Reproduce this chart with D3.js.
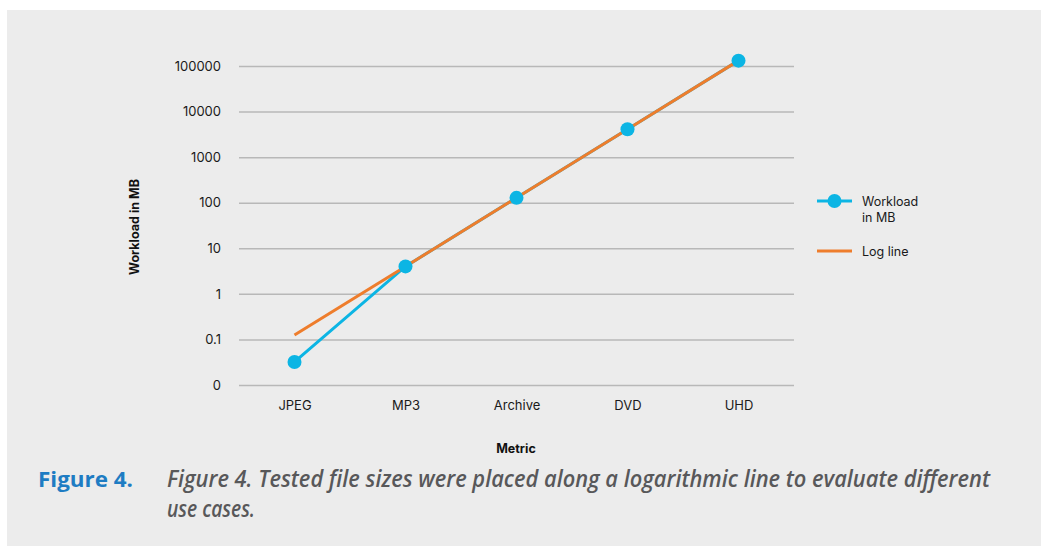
<!DOCTYPE html>
<html>
<head>
<meta charset="utf-8">
<script src="https://cdn.jsdelivr.net/npm/d3@7"></script>
<style>
  body { margin: 0; background: #fff; }
  svg text { font-family: Inter, Lato, sans-serif; }
</style>
</head>
<body>
<script>
// data
var categories = ["JPEG", "MP3", "Archive", "DVD", "UHD"];
var workload = [0.032, 4, 128, 4096, 131072];   // Workload in MB
var logLine = [0.125, 4, 128, 4096, 131072];    // fitted log line
var yTicks = [0.01, 0.1, 1, 10, 100, 1000, 10000, 100000];
var yTickLabels = ["0", "0.1", "1", "10", "100", "1000", "10000", "100000"];

var width = 1042, height = 546;

var svg = d3.select("body").append("svg")
    .attr("width", width)
    .attr("height", height);

// grey panel
svg.append("rect")
    .attr("x", 7).attr("y", 10)
    .attr("width", 1034).attr("height", 536)
    .attr("fill", "#ececec");

var x = d3.scalePoint()
    .domain(categories)
    .range([239, 794])
    .padding(0.5);

var y = d3.scaleLog()
    .domain([0.01, 100000])
    .range([385, 66]);

// gridlines + y labels
var yAxis = d3.axisLeft(y)
    .tickValues(yTicks)
    .tickSize(-(794 - 239))
    .tickPadding(18)
    .tickFormat(function(d, i) { return yTickLabels[i]; });

var gy = svg.append("g")
    .attr("transform", "translate(239,0)")
    .call(yAxis);
gy.select(".domain").remove();
gy.selectAll(".tick line").attr("stroke", "#b8b8b8").attr("stroke-width", 1.5);
gy.selectAll(".tick text")
    .attr("font-size", 13).attr("fill", "#1a1a1a")
    .style("font-family", "Inter, Lato, sans-serif");

// x labels
var xAxis = d3.axisBottom(x).tickSize(0).tickPadding(16);
var gx = svg.append("g")
    .attr("transform", "translate(0,385)")
    .call(xAxis);
gx.select(".domain").remove();
gx.selectAll(".tick text")
    .attr("font-size", 13).attr("fill", "#1a1a1a")
    .style("font-family", "Inter, Lato, sans-serif");

// axis titles
svg.append("text")
    .attr("transform", "translate(139,227) rotate(-90)")
    .attr("text-anchor", "middle")
    .attr("font-size", 12.5).attr("font-weight", "bold")
    .attr("fill", "#111")
    .text("Workload in MB");

svg.append("text")
    .attr("x", 516).attr("y", 453)
    .attr("text-anchor", "middle")
    .attr("font-size", 12.5).attr("font-weight", "bold")
    .attr("fill", "#111")
    .text("Metric");

var blue = "#0cb5e4", orange = "#ee7d2c";

var line = d3.line()
    .x(function(d, i) { return x(categories[i]); })
    .y(function(d) { return y(d); });

svg.append("path")
    .datum(workload)
    .attr("fill", "none")
    .attr("stroke", blue)
    .attr("stroke-width", 3)
    .attr("d", line);

svg.append("path")
    .datum(logLine)
    .attr("fill", "none")
    .attr("stroke", orange)
    .attr("stroke-width", 3)
    .attr("d", line);

svg.selectAll(".dot")
    .data(workload)
    .enter().append("circle")
    .attr("class", "dot")
    .attr("cx", function(d, i) { return x(categories[i]); })
    .attr("cy", function(d) { return y(d); })
    .attr("r", 7)
    .attr("fill", blue);

// legend
var leg = svg.append("g").attr("transform", "translate(817,0)");
leg.append("line")
    .attr("x1", 0).attr("x2", 35).attr("y1", 201).attr("y2", 201)
    .attr("stroke", blue).attr("stroke-width", 3);
leg.append("circle").attr("cx", 17.5).attr("cy", 201).attr("r", 7).attr("fill", blue);
leg.append("text").attr("x", 45).attr("y", 206)
    .attr("font-size", 12.5).attr("fill", "#1a1a1a").text("Workload");
leg.append("text").attr("x", 45).attr("y", 222)
    .attr("font-size", 12.5).attr("fill", "#1a1a1a").text("in MB");
leg.append("line")
    .attr("x1", 0).attr("x2", 35).attr("y1", 251).attr("y2", 251)
    .attr("stroke", orange).attr("stroke-width", 3);
leg.append("text").attr("x", 45).attr("y", 256)
    .attr("font-size", 12.5).attr("fill", "#1a1a1a").text("Log line");

// caption
svg.append("text")
    .attr("x", 38).attr("y", 487)
    .attr("font-size", 22).attr("font-weight", 700)
    .attr("fill", "#1e7cc3")
    .attr("textLength", 95).attr("lengthAdjust", "spacingAndGlyphs")
    .style("font-family", "'Open Sans', sans-serif")
    .text("Figure 4.");

var cap = svg.append("text")
    .attr("font-size", 23).attr("font-weight", 600)
    .attr("font-style", "italic")
    .attr("fill", "#58585a")
    .style("font-family", "'Open Sans', sans-serif");
cap.append("tspan").attr("x", 167).attr("y", 487)
    .attr("textLength", 823).attr("lengthAdjust", "spacingAndGlyphs")
    .text("Figure 4. Tested file sizes were placed along a logarithmic line to evaluate different");
cap.append("tspan").attr("x", 167).attr("y", 517)
    .attr("textLength", 88).attr("lengthAdjust", "spacingAndGlyphs")
    .text("use cases.");
</script>
</body>
</html>
